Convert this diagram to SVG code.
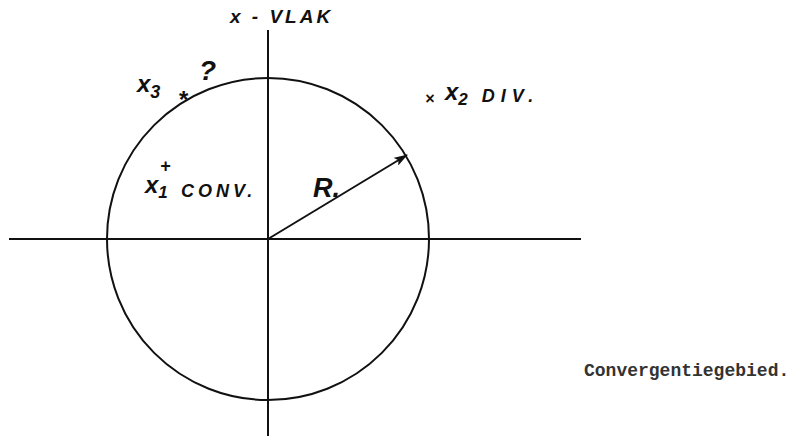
<svg xmlns="http://www.w3.org/2000/svg" width="795" height="436" viewBox="0 0 795 436">
<style>
.ln{stroke:#111;stroke-width:2;fill:none}
.hw{font-family:"Liberation Sans",Arial,sans-serif;font-weight:bold;font-style:italic;fill:#111}
.tw{font-family:"Liberation Mono","Courier New",monospace;fill:#333;font-weight:bold}
</style>
<defs>
<marker id="ah" markerWidth="14" markerHeight="9" refX="13" refY="4.5" orient="auto" markerUnits="userSpaceOnUse">
<path d="M0,0 L14,4.5 L0,9 L3,4.5 Z" fill="#111"/>
</marker>
</defs>
<rect width="795" height="436" fill="#fff"/>
<g id="axes">
<line class="ln" x1="9" y1="239" x2="581" y2="239"/>
<line class="ln" x1="268" y1="30" x2="268" y2="436"/>
</g>
<g id="circle">
<circle class="ln" cx="268" cy="239" r="161"/>
</g>
<g id="connectors">
<line class="ln" x1="268" y1="239" x2="407" y2="155" marker-end="url(#ah)"/>
</g>
<g id="labels">
<text class="hw" x="230" y="23" font-size="19" letter-spacing="3">x - VLAK</text>
<text class="hw" x="137" y="92" font-size="24">x<tspan font-size="18" dy="6">3</tspan></text>
<text class="hw" x="178" y="108" font-size="24">*</text>
<text class="hw" x="199" y="80" font-size="28">?</text>
<text class="hw" x="425" y="104" font-size="16">×</text>
<text class="hw" x="445" y="100" font-size="24">x<tspan font-size="17" dy="5">2</tspan><tspan dx="14" dy="-3" font-size="18" letter-spacing="6">DIV.</tspan></text>
<text class="hw" x="145" y="193" font-size="24">x<tspan font-size="17" dy="5">1</tspan></text>
<text class="hw" x="160" y="172" font-size="18">+</text>
<text class="hw" x="181" y="197" font-size="18" letter-spacing="4">CONV.</text>
<text class="hw" x="313" y="197" font-size="27">R.</text>
<text class="tw" x="584" y="376" font-size="18">Convergentiegebied.</text>
</g>
</svg>
